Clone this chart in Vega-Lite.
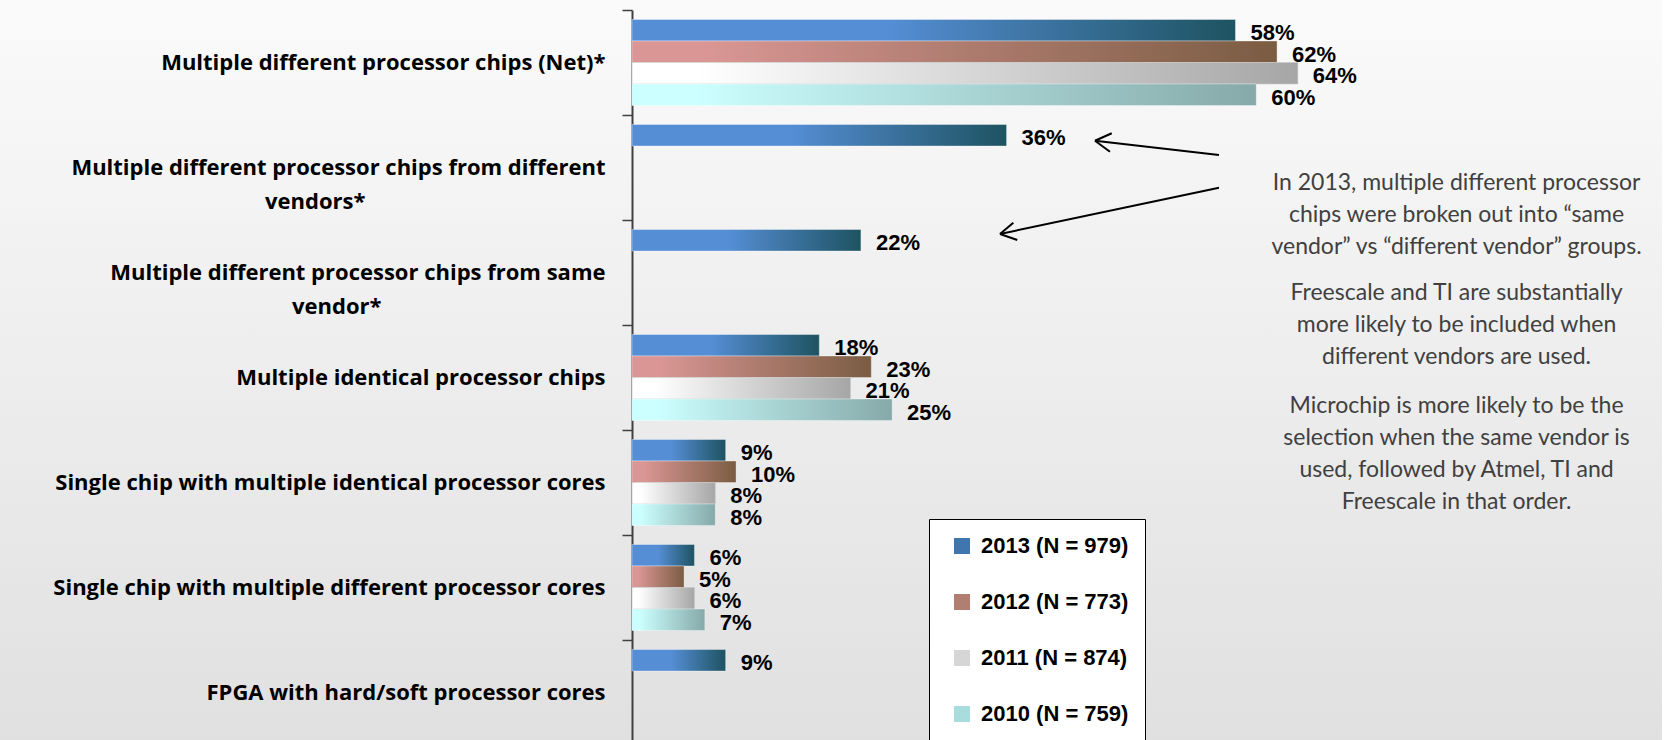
{
  "$schema": "https://vega.github.io/schema/vega-lite/v6.json",
  "width": 1662,
  "height": 735,
  "autosize": "none",
  "padding": {"left": 0, "top": 10, "right": 0, "bottom": 0},
  "background": "#FAFAFA",
  "config": {
    "view": {"stroke": null, "fill": {"gradient": "linear", "x1": 0, "y1": 0, "x2": 0, "y2": 1, "stops": [{"offset": 0, "color": "#FAFAFA"}, {"offset": 1, "color": "#E0E0E0"}]}},
    "font": "Open Sans"
  },
  "datasets": {
    "survey": [
      {"category": "Multiple different processor chips (Net)*", "series": "2013 (N = 979)", "value": 0.58},
      {"category": "Multiple different processor chips (Net)*", "series": "2012 (N = 773)", "value": 0.62},
      {"category": "Multiple different processor chips (Net)*", "series": "2011 (N = 874)", "value": 0.64},
      {"category": "Multiple different processor chips (Net)*", "series": "2010 (N = 759)", "value": 0.60},
      {"category": "Multiple different processor chips from different vendors*", "series": "2013 (N = 979)", "value": 0.36},
      {"category": "Multiple different processor chips from same vendor*", "series": "2013 (N = 979)", "value": 0.22},
      {"category": "Multiple identical processor chips", "series": "2013 (N = 979)", "value": 0.18},
      {"category": "Multiple identical processor chips", "series": "2012 (N = 773)", "value": 0.23},
      {"category": "Multiple identical processor chips", "series": "2011 (N = 874)", "value": 0.21},
      {"category": "Multiple identical processor chips", "series": "2010 (N = 759)", "value": 0.25},
      {"category": "Single chip with multiple identical processor cores", "series": "2013 (N = 979)", "value": 0.09},
      {"category": "Single chip with multiple identical processor cores", "series": "2012 (N = 773)", "value": 0.10},
      {"category": "Single chip with multiple identical processor cores", "series": "2011 (N = 874)", "value": 0.08},
      {"category": "Single chip with multiple identical processor cores", "series": "2010 (N = 759)", "value": 0.08},
      {"category": "Single chip with multiple different processor cores", "series": "2013 (N = 979)", "value": 0.06},
      {"category": "Single chip with multiple different processor cores", "series": "2012 (N = 773)", "value": 0.05},
      {"category": "Single chip with multiple different processor cores", "series": "2011 (N = 874)", "value": 0.06},
      {"category": "Single chip with multiple different processor cores", "series": "2010 (N = 759)", "value": 0.07},
      {"category": "FPGA with hard/soft processor cores", "series": "2013 (N = 979)", "value": 0.09}
    ],
    "blank": [{}]
  },
  "resolve": {"scale": {"y": "independent"}},
  "layer": [
    {
      "data": {"name": "survey"},
      "encoding": {
        "y": {
          "field": "category", "type": "nominal", "sort": null,
          "scale": {"paddingInner": 0, "paddingOuter": 0},
          "axis": {
            "title": null, "offset": -632, "tickBand": "extent",
            "labelFont": "Open Sans", "labelFontWeight": "bold", "labelFontSize": 22, "labelColor": "black",
            "labelPadding": 17, "labelLimit": 0, "labelLineHeight": 34,
            "tickSize": 10, "tickColor": "#404040", "tickWidth": 1.5,
            "domainColor": "#404040", "domainWidth": 2,
            "labelExpr": "datum.value == 'Multiple different processor chips from different vendors*' ? ['Multiple different processor chips from different', 'vendors*' + '\u2800\u2800\u2800\u2800\u2800\u2800\u2800\u2800\u2800\u2800\u2800\u2800\u2800\u2800\u2800'] : datum.value == 'Multiple different processor chips from same vendor*' ? ['Multiple different processor chips from same', 'vendor*' + '\u2800\u2800\u2800\u2800\u2800\u2800\u2800\u2800\u2800\u2800\u2800\u2800\u2800\u2800'] : datum.label"
          }
        },
        "yOffset": {
          "field": "series", "type": "nominal",
          "scale": {"domain": ["2013 (N = 979)", "2012 (N = 773)", "2011 (N = 874)", "2010 (N = 759)"], "paddingInner": 0, "paddingOuter": 0.442}
        },
        "x": {"field": "value", "type": "quantitative", "scale": {"domain": [-0.6075, 0.99]}, "axis": null}
      },
      "layer": [
        {
          "transform": [{"filter": {"field": "series", "equal": "2013 (N = 979)"}}],
          "mark": {"type": "bar", "stroke": "#FFFFFF", "strokeOpacity": 0.35, "strokeWidth": 1,
                   "color": {"gradient": "linear", "x1": 0, "y1": 0, "x2": 1, "y2": 0, "stops": [{"offset": 0, "color": "#558ED5"}, {"offset": 0.42, "color": "#558ED5"}, {"offset": 1, "color": "#1E5361"}]}}
        },
        {
          "transform": [{"filter": {"field": "series", "equal": "2012 (N = 773)"}}],
          "mark": {"type": "bar", "stroke": "#FFFFFF", "strokeOpacity": 0.35, "strokeWidth": 1,
                   "color": {"gradient": "linear", "x1": 0, "y1": 0, "x2": 1, "y2": 0, "stops": [{"offset": 0, "color": "#D99694"}, {"offset": 0.12, "color": "#D99694"}, {"offset": 1, "color": "#7A5C42"}]}}
        },
        {
          "transform": [{"filter": {"field": "series", "equal": "2011 (N = 874)"}}],
          "mark": {"type": "bar", "stroke": "#C8C8C8", "strokeOpacity": 0.6, "strokeWidth": 1,
                   "color": {"gradient": "linear", "x1": 0, "y1": 0, "x2": 1, "y2": 0, "stops": [{"offset": 0, "color": "#FFFFFF"}, {"offset": 0.1, "color": "#FFFFFF"}, {"offset": 1, "color": "#A6A6A6"}]}}
        },
        {
          "transform": [{"filter": {"field": "series", "equal": "2010 (N = 759)"}}],
          "mark": {"type": "bar", "stroke": "#FFFFFF", "strokeOpacity": 0.35, "strokeWidth": 1,
                   "color": {"gradient": "linear", "x1": 0, "y1": 0, "x2": 1, "y2": 0, "stops": [{"offset": 0, "color": "#CCFFFF"}, {"offset": 0.1, "color": "#CCFFFF"}, {"offset": 1, "color": "#86A9A9"}]}}
        },
        {
          "mark": {"type": "bar", "opacity": 0},
          "encoding": {
            "color": {
              "field": "series", "type": "nominal",
              "scale": {
                "domain": ["2013 (N = 979)", "2012 (N = 773)", "2011 (N = 874)", "2010 (N = 759)"],
                "range": ["#3F76B0", "#B07F72", "#D6D6D6", "#A9DCDC"]
              },
              "legend": {
                "title": null, "orient": "none", "legendX": 929, "legendY": 509,
                "symbolType": "square", "symbolSize": 256, "symbolStrokeWidth": 0, "symbolOffset": 6, "symbolOpacity": 1,
                "labelFont": "Liberation Sans", "labelFontWeight": "bold", "labelFontSize": 22, "labelColor": "black",
                "labelOffset": 8, "rowPadding": 34, "padding": 16,
                "strokeColor": "black", "fillColor": "white"
              }
            }
          }
        },
        {
          "mark": {"type": "text", "align": "left", "baseline": "middle", "dx": 15, "dy": 3, "font": "Liberation Sans", "fontWeight": "bold", "fontSize": 22, "color": "black"},
          "encoding": {"text": {"field": "value", "type": "quantitative", "format": ".0%"}}
        }
      ]
    },
    {
      "data": {"name": "blank"},
      "layer": [
        {"mark": {"type": "rule", "stroke": "black", "strokeWidth": 2},
         "encoding": {"x": {"datum": 0.5642, "type": "quantitative", "scale": {"domain": [-0.6075, 0.99]}, "axis": null}, "x2": {"datum": 0.4450}, "y": {"datum": 1.381, "type": "quantitative", "scale": {"domain": [0, 7], "reverse": true}, "axis": null}, "y2": {"datum": 1.245}}},
        {"mark": {"type": "rule", "stroke": "black", "strokeWidth": 2},
         "encoding": {"x": {"datum": 0.4450, "type": "quantitative", "scale": {"domain": [-0.6075, 0.99]}, "axis": null}, "x2": {"datum": 0.4611}, "y": {"datum": 1.245, "type": "quantitative", "scale": {"domain": [0, 7], "reverse": true}, "axis": null}, "y2": {"datum": 1.174}}},
        {"mark": {"type": "rule", "stroke": "black", "strokeWidth": 2},
         "encoding": {"x": {"datum": 0.4450, "type": "quantitative", "scale": {"domain": [-0.6075, 0.99]}, "axis": null}, "x2": {"datum": 0.4594}, "y": {"datum": 1.245, "type": "quantitative", "scale": {"domain": [0, 7], "reverse": true}, "axis": null}, "y2": {"datum": 1.350}}},
        {"mark": {"type": "rule", "stroke": "black", "strokeWidth": 2},
         "encoding": {"x": {"datum": 0.5642, "type": "quantitative", "scale": {"domain": [-0.6075, 0.99]}, "axis": null}, "x2": {"datum": 0.3537}, "y": {"datum": 1.692, "type": "quantitative", "scale": {"domain": [0, 7], "reverse": true}, "axis": null}, "y2": {"datum": 2.133}}},
        {"mark": {"type": "rule", "stroke": "black", "strokeWidth": 2},
         "encoding": {"x": {"datum": 0.3537, "type": "quantitative", "scale": {"domain": [-0.6075, 0.99]}, "axis": null}, "x2": {"datum": 0.3665}, "y": {"datum": 2.133, "type": "quantitative", "scale": {"domain": [0, 7], "reverse": true}, "axis": null}, "y2": {"datum": 2.026}}},
        {"mark": {"type": "rule", "stroke": "black", "strokeWidth": 2},
         "encoding": {"x": {"datum": 0.3537, "type": "quantitative", "scale": {"domain": [-0.6075, 0.99]}, "axis": null}, "x2": {"datum": 0.3703}, "y": {"datum": 2.133, "type": "quantitative", "scale": {"domain": [0, 7], "reverse": true}, "axis": null}, "y2": {"datum": 2.190}}},
        {"mark": {"type": "text", "align": "center", "baseline": "middle", "font": "Lato", "fontSize": 23, "color": "#404040", "lineHeight": 32,
                  "text": ["In 2013, multiple different processor", "chips were broken out into \u201csame", "vendor\u201d vs \u201cdifferent vendor\u201d groups."]},
         "encoding": {"x": {"datum": 0.7925, "type": "quantitative", "scale": {"domain": [-0.6075, 0.99]}, "axis": null}, "y": {"datum": 1.648, "type": "quantitative", "scale": {"domain": [0, 7], "reverse": true}, "axis": null}}},
        {"mark": {"type": "text", "align": "center", "baseline": "middle", "font": "Lato", "fontSize": 23, "color": "#404040", "lineHeight": 32,
                  "text": ["Freescale and TI are substantially", "more likely to be included when", "different vendors are used."]},
         "encoding": {"x": {"datum": 0.7925, "type": "quantitative", "scale": {"domain": [-0.6075, 0.99]}, "axis": null}, "y": {"datum": 2.694, "type": "quantitative", "scale": {"domain": [0, 7], "reverse": true}, "axis": null}}},
        {"mark": {"type": "text", "align": "center", "baseline": "middle", "font": "Lato", "fontSize": 23, "color": "#404040", "lineHeight": 32,
                  "text": ["Microchip is more likely to be the", "selection  when the same vendor is", "used, followed by Atmel, TI and", "Freescale in that order."]},
         "encoding": {"x": {"datum": 0.7925, "type": "quantitative", "scale": {"domain": [-0.6075, 0.99]}, "axis": null}, "y": {"datum": 3.770, "type": "quantitative", "scale": {"domain": [0, 7], "reverse": true}, "axis": null}}}
      ]
    }
  ]
}
